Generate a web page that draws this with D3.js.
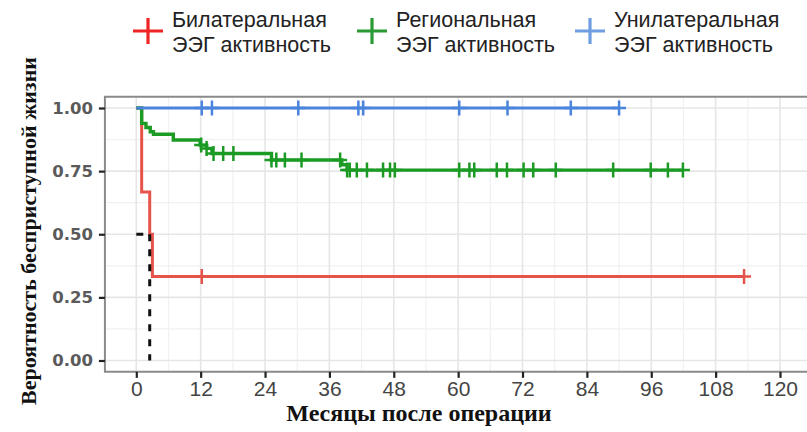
<!DOCTYPE html>
<html>
<head>
<meta charset="utf-8">
<script src="https://cdn.jsdelivr.net/npm/d3@7"></script>
<style>
  html, body { margin: 0; padding: 0; background: #fff; }
  svg { display: block; }
</style>
</head>
<body>
<svg id="chart" width="807" height="432"></svg>
<script>
// Kaplan–Meier curves: step times (months) and survival probability after each step
const groupNames = ["Билатеральная", "Региональная", "Унилатеральная"];
const legendLine2 = "ЭЭГ активность";

const bilatTimes = [0, 1.0, 2.5, 3.0];
const bilatSurv = [1.0, 0.667, 0.5, 0.333];
const bilatCensor = [12.2, 113.3];

const regTimes = [0, 1.0, 1.8, 2.6, 3.2, 6.9, 11.9, 13.1, 14.1, 25.2, 38.3, 39.3];
const regSurv = [1.0, 0.939, 0.923, 0.906, 0.896, 0.873, 0.853, 0.840, 0.820, 0.794, 0.775, 0.754];
const regCensor = [12.1, 13.1, 14.4, 16.2, 18.1, 25.2, 26.1, 27.7, 30.8, 38.0, 39.3, 39.8, 41.1,
  43.0, 46.0, 47.3, 48.2, 60.2, 62.1, 63.0, 67.2, 69.1, 72.2, 74.0, 78.2, 88.9, 95.9, 99.1, 101.9];

const uniTimes = [0];
const uniSurv = [1.0];
const uniCensor = [12.2, 14.1, 30.2, 41.4, 42.3, 60.2, 69.2, 81.0, 90.0];

const xTicks = [0, 12, 24, 36, 48, 60, 72, 84, 96, 108, 120];
const yTicks = [0, 0.25, 0.5, 0.75, 1.0];

const xTitle = "Месяцы после операции";
const yTitle = "Вероятность бесприступной жизни";

// styling
const lineColors = ["#e5534b", "#1b9a24", "#4a84dc"];
const keyColors = ["#ef2424", "#2a9a35", "#6e9de2"];

const series = [
  { times: bilatTimes, surv: bilatSurv, censor: bilatCensor },
  { times: regTimes, surv: regSurv, censor: regCensor },
  { times: uniTimes, surv: uniSurv, censor: uniCensor }
];

const svg = d3.select("#chart");

const x = d3.scaleLinear().domain([0, 120]).range([136.3, 780]);
const y = d3.scaleLinear().domain([0, 1]).range([360.5, 108]);

const panel = { left: x(-5.85), right: x(126.5), top: y(1.045), bottom: y(-0.045) };

// panel background
svg.append("rect")
  .attr("x", panel.left).attr("y", panel.top)
  .attr("width", panel.right - panel.left).attr("height", panel.bottom - panel.top)
  .attr("fill", "#fff");

// grid (minor then major)
const grid = svg.append("g");
const minorX = d3.range(6, 126, 12);
const minorY = [0.125, 0.375, 0.625, 0.875];
grid.selectAll(".mx").data(minorX).join("line")
  .attr("x1", d => x(d)).attr("x2", d => x(d))
  .attr("y1", panel.top).attr("y2", panel.bottom)
  .attr("stroke", "#f1f1f1").attr("stroke-width", 1.2);
grid.selectAll(".my").data(minorY).join("line")
  .attr("x1", panel.left).attr("x2", panel.right)
  .attr("y1", d => y(d)).attr("y2", d => y(d))
  .attr("stroke", "#f1f1f1").attr("stroke-width", 1.2);
grid.selectAll(".gx").data(xTicks).join("line")
  .attr("x1", d => x(d)).attr("x2", d => x(d))
  .attr("y1", panel.top).attr("y2", panel.bottom)
  .attr("stroke", "#e6e6e6").attr("stroke-width", 1.6);
grid.selectAll(".gy").data(yTicks).join("line")
  .attr("x1", panel.left).attr("x2", panel.right)
  .attr("y1", d => y(d)).attr("y2", d => y(d))
  .attr("stroke", "#e6e6e6").attr("stroke-width", 1.6);

// curves
const step = d3.line().x(d => x(d[0])).y(d => y(d[1])).curve(d3.curveStepAfter);
function survAt(s, t) {
  let v = s.surv[0];
  s.times.forEach((tt, i) => { if (tt <= t) v = s.surv[i]; });
  return v;
}

series.forEach((s, i) => {
  const end = d3.max(s.censor);
  const pts = s.times.map((t, j) => [t, s.surv[j]]);
  pts.push([end, s.surv[s.surv.length - 1]]);
  svg.append("path").attr("d", step(pts))
    .attr("fill", "none").attr("stroke", lineColors[i])
    .attr("stroke-width", i === 1 ? 3.4 : 3);
  const cs = svg.append("g");
  cs.selectAll("path").data(s.censor).join("path")
    .attr("d", t => {
      const cx = x(t), cy = y(survAt(s, t));
      return `M${cx - 7},${cy}H${cx + 7}M${cx},${cy - 7.5}V${cy + 7.5}`;
    })
    .attr("stroke", lineColors[i]).attr("stroke-width", 2.5).attr("fill", "none");
});

// median survival marker for the bilateral group
const b = series[0];
const medIdx = b.surv.findIndex(v => v <= 0.5);
const medT = b.times[medIdx];
svg.append("path")
  .attr("d", `M${x(0)},${y(0.5)}H${x(medT)}M${x(medT)},${y(0.5)}V${y(0)}`)
  .attr("fill", "none").attr("stroke", "#111").attr("stroke-width", 3)
  .attr("stroke-dasharray", "7,8");

// panel border
svg.append("path")
  .attr("d", `M${panel.right},${panel.top}H${panel.left}V${panel.bottom}H${panel.right}`)
  .attr("fill", "none").attr("stroke", "#8a8a8a").attr("stroke-width", 2);

// axes
const xAxis = d3.axisBottom(x).tickValues(xTicks).tickSize(6).tickPadding(3).tickFormat(d3.format("d"));
const gx = svg.append("g").attr("transform", `translate(0,${panel.bottom})`).call(xAxis);
gx.select(".domain").remove();
gx.selectAll(".tick line").attr("stroke", "#222").attr("stroke-width", 2.2);
gx.selectAll(".tick text")
  .attr("fill", "#444")
  .style("font-family", "'Liberation Sans Narrow', 'Liberation Sans', sans-serif")
  .style("font-size", "21px");

const yAxis = d3.axisLeft(y).tickValues(yTicks).tickSize(6).tickPadding(6).tickFormat(d3.format(".2f"));
const gy = svg.append("g").attr("transform", `translate(${panel.left},0)`).call(yAxis);
gy.select(".domain").remove();
gy.selectAll(".tick line").attr("stroke", "#222").attr("stroke-width", 2.2);
gy.selectAll(".tick text")
  .attr("fill", "#5a5a5a")
  .style("font-family", "'DejaVu Sans', sans-serif")
  .style("font-weight", "bold")
  .style("font-size", "16.5px");

// axis titles
svg.append("text")
  .attr("x", 419).attr("y", 421)
  .attr("text-anchor", "middle")
  .style("font-family", "'Liberation Serif', serif")
  .style("font-weight", "bold").style("font-size", "24px")
  .attr("fill", "#111")
  .text(xTitle);

svg.append("text")
  .attr("transform", "translate(36,231) rotate(-90)")
  .attr("text-anchor", "middle")
  .style("font-family", "'Liberation Serif', serif")
  .style("font-weight", "bold").style("font-size", "22px")
  .attr("fill", "#111")
  .text(yTitle);

// legend
const legendX = [148, 372, 590];
const lg = svg.append("g");
groupNames.forEach((name, i) => {
  const cx = legendX[i], cy = 31;
  lg.append("path")
    .attr("d", `M${cx - 15},${cy}H${cx + 15}M${cx},${cy - 13}V${cy + 13}`)
    .attr("stroke", keyColors[i]).attr("stroke-width", 3.2).attr("fill", "none");
  const t = lg.append("text")
    .style("font-family", "'Liberation Sans Narrow', 'Liberation Sans', sans-serif")
    .style("font-size", "21.5px")
    .attr("fill", "#222");
  t.append("tspan").attr("x", cx + 24).attr("y", 27).text(name);
  t.append("tspan").attr("x", cx + 24).attr("y", 52).text(legendLine2);
});
</script>
</body>
</html>
